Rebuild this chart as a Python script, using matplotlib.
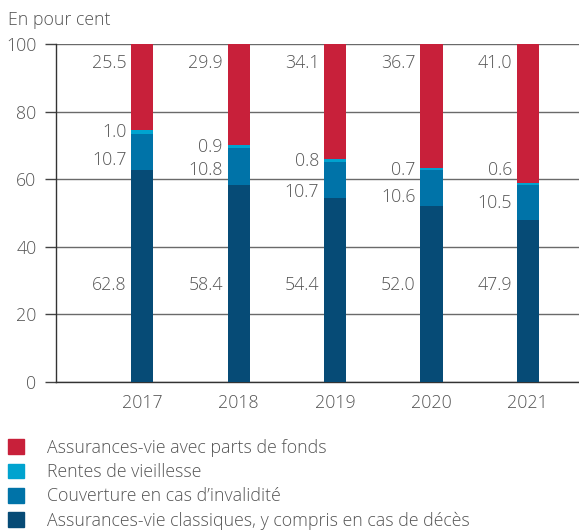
import matplotlib
matplotlib.use("Agg")
import matplotlib.pyplot as plt
from matplotlib.patches import Patch

years = ["2017", "2018", "2019", "2020", "2021"]
classiques = [62.8, 58.4, 54.4, 52.0, 47.9]
invalidite = [10.7, 10.8, 10.7, 10.6, 10.5]
rentes = [1.0, 0.9, 0.8, 0.7, 0.6]
fonds = [25.5, 29.9, 34.1, 36.7, 41.0]

labels = ["Assurances-vie avec parts de fonds", "Rentes de vieillesse",
          "Couverture en cas d\u2019invalidit\u00e9",
          "Assurances-vie classiques, y compris en cas de d\u00e9c\u00e8s"]
colors = {"fonds": "#C8203A", "rentes": "#00A3CF", "inval": "#0073A8", "class": "#064B76"}

# label anchor heights (annotation placement)
y_fonds_lbl = 94.3
y_class_lbl = 28.7
y_rentes_lbl = [74.0, 69.4, 65.5, 62.7, 62.7]
y_inval_lbl = [65.7, 62.7, 56.3, 54.7, 53.0]

plt.rcParams['font.family'] = ['Open Sans', 'DejaVu Sans']
plt.rcParams['font.weight'] = 'light'
txt = "#555555"
fs = 12.8

fig = plt.figure(figsize=(5.79, 5.32), dpi=100)
ax = fig.add_axes([56/579, 1-382/532, 1-56/579, (382-44)/532])

x = list(range(len(years)))
w = 0.23
b1 = ax.bar(x, classiques, w, color=colors["class"], zorder=3)
bot2 = classiques
b2 = ax.bar(x, invalidite, w, bottom=bot2, color=colors["inval"], zorder=3)
bot3 = [a + b for a, b in zip(classiques, invalidite)]
b3 = ax.bar(x, rentes, w, bottom=bot3, color=colors["rentes"], zorder=3)
bot4 = [a + b for a, b in zip(bot3, rentes)]
b4 = ax.bar(x, fonds, w, bottom=bot4, color=colors["fonds"], zorder=3)

off = w/2 + 0.05
for i in x:
    xl = i - off
    ax.text(xl, y_fonds_lbl, f"{fonds[i]:.1f}", ha="right", va="center", color=txt, fontsize=fs)
    ax.text(xl, y_rentes_lbl[i], f"{rentes[i]:.1f}", ha="right", va="center", color=txt, fontsize=fs)
    ax.text(xl, y_inval_lbl[i], f"{invalidite[i]:.1f}", ha="right", va="center", color=txt, fontsize=fs)
    ax.text(xl, y_class_lbl, f"{classiques[i]:.1f}", ha="right", va="center", color=txt, fontsize=fs)

ax.set_xlim(-86/96, 4 + 51/96)
ax.set_ylim(0, 100)
ax.set_yticks([0, 20, 40, 60, 80, 100])
ax.set_xticks(x)
ax.set_xticklabels(years)
ax.tick_params(axis="x", length=0, pad=9, labelsize=fs, labelcolor=txt)
ax.tick_params(axis="y", length=8, width=1, color="#444444", pad=6, labelsize=fs, labelcolor=txt)
ax.yaxis.grid(True, color="#6a6a6a", lw=1, zorder=0)
for s in ["top", "right"]:
    ax.spines[s].set_visible(False)
ax.spines["left"].set_color("#333333")
ax.spines["bottom"].set_color("#333333")
ax.spines["left"].set_linewidth(1)
ax.spines["bottom"].set_linewidth(1)

fig.text(8/579, 1-20/532, "En pour cent", ha="left", va="center", color=txt, fontsize=fs)

handles = [Patch(color=colors["fonds"]), Patch(color=colors["rentes"]),
           Patch(color=colors["inval"]), Patch(color=colors["class"])]
fig.legend(handles, labels, loc="upper left", bbox_to_anchor=(8/579, 1-439/532),
           frameon=False, fontsize=fs, handlelength=0.9, handleheight=0.9,
           handletextpad=1.28, labelspacing=0.35, borderpad=0, borderaxespad=0,
           labelcolor=txt)

fig.savefig("out.png", dpi=100)
